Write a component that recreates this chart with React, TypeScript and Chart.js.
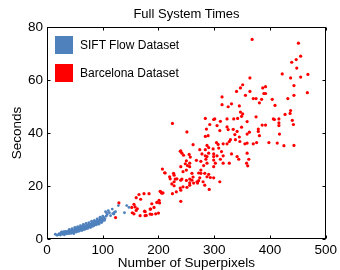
import React, { useEffect, useRef } from "react";
import { Chart, registerables } from "chart.js";

Chart.register(...registerables);

const chartTitle = "Full System Times";
const xAxisTitle = "Number of Superpixels";
const yAxisTitle = "Seconds";
const seriesNames = ["SIFT Flow Dataset", "Barcelona Dataset"];
const seriesColors = ["#4F81BD", "#FF0000"];
const xTicks = [0, 100, 200, 300, 400, 500];
const yTicks = [0, 20, 40, 60, 80];

const siftFlowPoints: [number, number][] = [
  [15, 1.8], [18, 1.4], [20, 1.6], [22, 2.0], [24, 1.5], [25, 2.2], [27, 1.8], [28, 2.5], [30, 2.0], [31, 1.6],
  [32, 2.4], [33, 2.9], [34, 2.1], [35, 1.9], [36, 2.6], [37, 3.0], [38, 2.3], [39, 2.0], [40, 2.8], [41, 3.3],
  [42, 2.5], [43, 2.1], [44, 3.0], [45, 2.7], [46, 3.5], [47, 2.4], [48, 3.1], [49, 2.8], [50, 3.8], [51, 3.2],
  [52, 2.6], [53, 3.5], [54, 4.0], [55, 3.0], [56, 3.6], [57, 2.9], [58, 4.2], [59, 3.4], [60, 3.9], [61, 4.5],
  [62, 3.3], [63, 4.1], [64, 3.7], [65, 4.8], [66, 4.3], [67, 3.6], [68, 5.0], [69, 4.4], [70, 3.9], [71, 4.7],
  [72, 5.3], [73, 4.2], [74, 5.0], [75, 4.5], [76, 5.6], [77, 4.9], [78, 4.3], [79, 5.4], [80, 5.9], [81, 4.8],
  [82, 5.5], [83, 6.2], [84, 5.1], [85, 5.8], [86, 6.5], [87, 5.4], [88, 6.1], [89, 6.8], [90, 5.7], [91, 6.4],
  [92, 7.1], [93, 6.0], [94, 6.7], [95, 7.5], [96, 6.3], [97, 7.0], [98, 7.8], [99, 6.6], [100, 7.3], [102, 8.1],
  [104, 7.6], [105, 10.3], [106, 8.6], [108, 9.2], [110, 10.7], [114, 8.8], [117, 11.3], [120, 9.4], [123, 10.3],
  [128, 12.6], [143, 12.6], [139, 9.9], [147, 11.9], [118, 9.6], [121, 10.1],
  [40, 3.6], [45, 3.9], [50, 4.4], [55, 4.7], [60, 5.0], [65, 5.5], [70, 5.9], [75, 6.2], [80, 6.7], [85, 7.0],
  [90, 7.6], [95, 8.2], [43, 2.6], [48, 2.0], [53, 2.7], [58, 3.1], [63, 3.3], [68, 3.7], [73, 4.0], [78, 4.6],
  [83, 4.9], [88, 5.3], [93, 5.6], [98, 6.2], [35, 2.5], [30, 2.8], [26, 2.7], [62, 4.6], [72, 4.5], [82, 5.9],
  [57, 4.3], [67, 4.9], [77, 5.3], [87, 6.1], [97, 6.9], [100, 8.6], [103, 7.0], [107, 9.8], [112, 9.9],
];

const barcelonaPoints: [number, number][] = [
  [368, 75.3], [451, 73.9], [455, 69.0], [447, 67.7], [439, 66.7], [448, 64.5], [422, 62.3], [468, 62.1],
  [437, 60.8], [455, 61.1], [364, 60.8], [351, 58.2], [347, 57.0], [392, 57.5], [387, 57.0], [443, 57.9],
  [340, 55.7], [364, 55.7], [467, 55.2], [389, 54.9], [392, 54.9], [443, 54.2], [314, 53.6], [356, 54.2],
  [375, 53.0], [370, 53.0], [385, 52.7], [404, 52.7], [432, 53.0], [331, 51.0], [314, 50.7], [345, 50.2],
  [325, 49.9], [381, 51.4], [409, 50.4], [347, 47.9], [351, 47.2], [437, 48.5], [436, 47.4], [349, 46.3],
  [375, 46.1], [323, 45.3], [284, 45.5], [301, 45.3], [299, 45.1], [311, 44.4], [335, 45.3], [342, 45.5],
  [406, 45.3], [408, 45.1], [416, 45.3], [427, 47.0], [440, 44.8], [442, 43.2], [416, 43.8], [416, 42.8],
  [386, 43.0], [392, 43.0], [225, 43.6], [292, 43.2], [305, 42.8], [323, 42.3], [349, 42.2], [359, 44.3],
  [379, 41.5], [286, 41.5], [310, 40.9], [325, 41.3], [334, 41.4], [341, 40.6], [337, 39.4], [363, 40.3],
  [379, 40.6], [417, 39.6], [251, 40.4], [284, 38.7], [289, 39.0], [345, 38.5], [359, 39.6], [381, 39.0],
  [329, 37.5], [338, 37.5], [346, 36.8], [327, 36.8], [323, 35.9], [304, 36.4], [307, 35.7], [316, 35.9],
  [355, 35.9], [359, 36.2], [370, 35.9], [376, 36.4], [398, 36.4], [413, 36.2], [425, 35.2], [443, 35.3],
  [262, 35.6], [287, 35.3], [290, 34.5], [274, 33.7], [284, 33.7], [298, 34.0], [308, 34.3], [240, 33.3],
  [242, 32.4], [255, 31.9], [278, 32.1], [290, 32.4], [299, 32.1], [313, 33.0], [331, 32.1], [299, 31.1],
  [305, 31.4], [316, 31.4], [284, 31.4], [287, 31.1], [341, 31.1], [344, 30.1], [359, 32.4], [362, 30.1],
  [285, 30.1], [299, 29.8], [311, 30.1], [257, 30.9], [250, 29.5], [276, 29.3], [287, 28.6], [302, 28.6],
  [316, 28.6], [327, 28.6], [358, 28.6], [256, 28.6], [252, 27.7], [256, 27.3], [240, 27.3], [207, 26.4],
  [281, 27.7], [299, 27.3], [360, 27.6], [276, 26.0], [250, 26.0], [260, 24.8], [211, 25.0], [227, 24.8],
  [244, 25.4], [276, 24.8], [283, 24.8], [290, 24.4], [274, 23.1], [287, 23.5], [299, 23.1], [293, 23.2],
  [228, 24.1], [220, 23.5], [230, 22.6], [242, 22.6], [256, 22.6], [260, 22.2], [272, 22.0], [269, 21.6],
  [280, 21.6], [310, 21.6], [228, 21.6], [256, 21.2], [240, 22.2], [256, 20.3], [244, 19.7], [228, 20.1],
  [291, 18.7], [283, 20.3], [232, 17.8], [240, 18.4], [225, 17.1], [204, 17.8], [208, 17.4], [165, 16.8],
  [174, 17.1], [183, 17.1], [160, 15.6], [168, 15.0], [201, 14.6], [197, 13.8], [240, 14.2], [129, 13.6],
  [188, 13.3], [156, 13.1], [158, 12.1], [186, 11.3], [160, 10.8], [175, 10.5], [153, 9.9], [156, 9.5],
  [200, 9.8], [178, 8.9], [188, 9.3], [195, 9.5], [123, 8.1], [162, 11.4], [152, 11.9], [192, 11.9],
  [202, 13.6], [206, 17.3], [203, 18.0], [176, 8.8], [167, 8.8], [185, 9.4], [212, 24.9], [221, 22.7],
  [224, 20.8], [233, 22.7], [239, 19.2], [251, 19.5], [250, 22.1], [248, 28.4], [268, 29.7], [272, 24.9],
  [270, 21.1], [263, 21.1], [262, 23.4], [239, 33.1], [245, 31.6], [176, 10.3], [185, 11.3],
];

const framePlugin = {
  id: "frameTicks",
  afterDatasetsDraw(chart: any) {
    const { ctx, chartArea: a, scales } = chart;
    ctx.save();
    ctx.strokeStyle = "#000";
    ctx.lineWidth = 1;
    const l = Math.round(a.left) + 0.5;
    const r = Math.round(a.right) - 0.5;
    const t = Math.round(a.top) + 0.5;
    const b = Math.round(a.bottom) - 0.5;
    ctx.strokeRect(l, t, r - l, b - t);
    const tl = 3;
    ctx.beginPath();
    scales.x.ticks.forEach((tk: any) => {
      const px = Math.round(scales.x.getPixelForValue(tk.value)) + 0.5;
      ctx.moveTo(px, b);
      ctx.lineTo(px, b - tl);
      ctx.moveTo(px, t);
      ctx.lineTo(px, t + tl);
    });
    scales.y.ticks.forEach((tk: any) => {
      const py = Math.round(scales.y.getPixelForValue(tk.value)) + 0.5;
      ctx.moveTo(l, py);
      ctx.lineTo(l + tl, py);
      ctx.moveTo(r, py);
      ctx.lineTo(r - tl, py);
    });
    ctx.stroke();
    ctx.restore();
  },
};

const fontFamily = "'Liberation Sans', Arial, sans-serif";

export default function App() {
  const canvasRef = useRef<HTMLCanvasElement | null>(null);

  useEffect(() => {
    if (!canvasRef.current) return;
    Chart.defaults.font.family = fontFamily;
    Chart.defaults.color = "#000";
    const chart = new Chart(canvasRef.current, {
      type: "scatter",
      data: {
        datasets: [
          {
            label: seriesNames[0],
            data: siftFlowPoints.map(([x, y]) => ({ x, y })),
            backgroundColor: seriesColors[0],
            borderWidth: 0,
            pointRadius: 1.4,
          },
          {
            label: seriesNames[1],
            data: barcelonaPoints.map(([x, y]) => ({ x, y })),
            backgroundColor: seriesColors[1],
            borderWidth: 0,
            pointRadius: 1.6,
          },
        ],
      },
      options: {
        responsive: false,
        animation: false,
        layout: { padding: { left: 0, right: 14, top: 27, bottom: 0 } },
        plugins: {
          legend: { display: false },
          tooltip: { enabled: false },
          title: { display: false },
        },
        scales: {
          x: {
            type: "linear",
            min: xTicks[0],
            max: xTicks[xTicks.length - 1],
            afterBuildTicks: (s: any) => {
              s.ticks = xTicks.map((v) => ({ value: v }));
            },
            afterFit: (s: any) => {
              s.height = 31;
            },
            grid: { display: false, drawTicks: false },
            border: { display: false },
            ticks: { font: { size: 13.5 }, padding: 3, maxRotation: 0, color: "#000" },
            title: {
              display: true,
              text: xAxisTitle,
              font: { size: 13.5, lineHeight: 1 },
              padding: { top: 0, bottom: 0 },
              color: "#000",
            },
          },
          y: {
            type: "linear",
            min: yTicks[0],
            max: yTicks[yTicks.length - 1],
            afterBuildTicks: (s: any) => {
              s.ticks = yTicks.map((v) => ({ value: v }));
            },
            afterFit: (s: any) => {
              s.width = 47;
            },
            grid: { display: false, drawTicks: false },
            border: { display: false },
            ticks: { font: { size: 13.5 }, padding: 4, color: "#000" },
            title: {
              display: true,
              text: yAxisTitle,
              font: { size: 13.5, lineHeight: 1 },
              padding: { top: 11, bottom: 0 },
              color: "#000",
            },
          },
        },
      },
      plugins: [framePlugin],
    } as any);
    return () => chart.destroy();
  }, []);

  const legendItem = (i: number, top: number) => (
    <div
      key={i}
      style={{
        position: "absolute",
        left: 55,
        top,
        height: 18,
        display: "flex",
        alignItems: "center",
        fontFamily,
        fontSize: 12,
        color: "#000",
        whiteSpace: "nowrap",
      }}
    >
      <span style={{ display: "inline-block", width: 18, height: 18, background: seriesColors[i], marginRight: 7 }} />
      <span>{seriesNames[i]}</span>
    </div>
  );

  return (
    <div style={{ position: "fixed", left: 0, top: 0, width: 340, height: 270, background: "#fff" }}>
      <canvas ref={canvasRef} width={340} height={270} style={{ display: "block" }} />
      <div
        style={{
          position: "absolute",
          left: 47,
          width: 279,
          top: 6,
          height: 16,
          lineHeight: "16px",
          textAlign: "center",
          fontFamily,
          fontSize: 13,
          color: "#000",
          whiteSpace: "nowrap",
        }}
      >
        {chartTitle}
      </div>
      {legendItem(0, 36)}
      {legendItem(1, 64)}
    </div>
  );
}
